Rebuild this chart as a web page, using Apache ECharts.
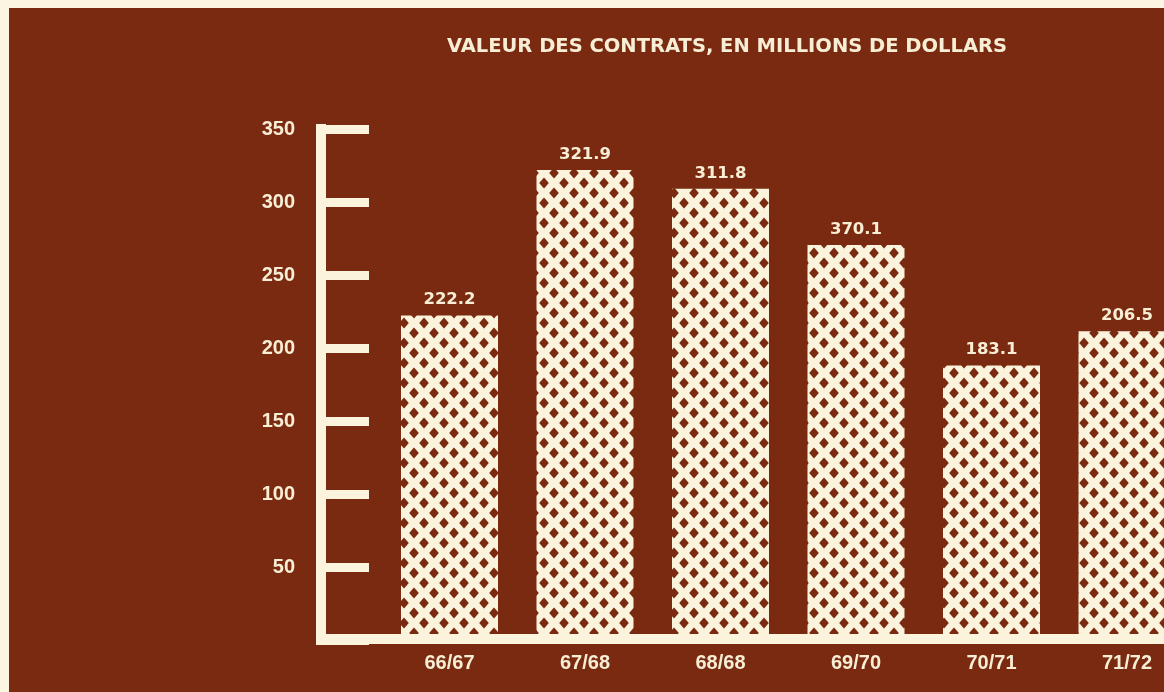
<!DOCTYPE html>
<html><head><meta charset="utf-8">
<script src="https://cdn.jsdelivr.net/npm/echarts@6/dist/echarts.min.js"></script>
<style>
html,body{margin:0;padding:0;background:#fbf5e1;width:1164px;height:692px;overflow:hidden}
#chart{position:absolute;left:9px;top:8px;width:1155px;height:684px;background:#7a2a10}
</style></head><body><div id="chart"></div>
<script>
const titleText = 'VALEUR DES CONTRATS, EN MILLIONS DE DOLLARS';
const categories = ['66/67', '67/68', '68/68', '69/70', '70/71', '71/72'];
// bar heights as drawn in the picture
const barHeights = [222.2, 321.9, 309, 270.5, 188, 211.5];
// values printed above the bars
const printedLabels = ['222.2', '321.9', '311.8', '370.1', '183.1', '206.5'];
const yMin = 0, yMax = 350, yStep = 50;

const BROWN = '#7a2a10';
const CREAM = '#fbf3dc';
const TEXT = '#f7eed5';

function makePattern() {
  const c = document.createElement('canvas');
  c.width = 20; c.height = 20;
  const g = c.getContext('2d');
  g.fillStyle = CREAM; g.fillRect(0, 0, 20, 20);
  g.fillStyle = BROWN;
  const a = 4.8, b = 5.6;
  const d = (x, y) => { g.beginPath(); g.moveTo(x, y - b); g.lineTo(x + a, y); g.lineTo(x, y + b); g.lineTo(x - a, y); g.closePath(); g.fill(); };
  d(5, 5); d(15, 15); d(-5, 15); d(25, 15); d(5, 25); d(15, -5); d(-5, -5); d(25, -5); d(-5, 25); d(25, 25); d(5, -15); d(15, 35);
  return c;
}

const chart = echarts.init(document.getElementById('chart'));
chart.setOption({
  animation: false,
  backgroundColor: BROWN,
  title: {
    text: titleText, left: 718, textAlign: 'center', top: 29, padding: 0,
    textStyle: { color: TEXT, fontFamily: 'DejaVu Sans', fontWeight: 'bold', fontSize: 19.5 }
  },
  grid: [
    { left: 440.5, right: 37, top: 121, bottom: 52 },
    { left: 307, right: 0, top: 121, bottom: 53 }
  ],
  xAxis: [
    {
      type: 'category', gridIndex: 0, data: categories, boundaryGap: false,
      axisLine: { show: false }, axisTick: { show: false }, splitLine: { show: false },
      axisLabel: { color: TEXT, fontFamily: 'Liberation Sans', fontWeight: 'bold', fontSize: 20, margin: 13 }
    },
    {
      type: 'value', gridIndex: 1, min: 0, max: 1, z: 5,
      axisLine: { show: true, lineStyle: { color: CREAM, width: 10, cap: 'butt' } },
      axisTick: { show: false }, axisLabel: { show: false }, splitLine: { show: false }
    }
  ],
  yAxis: [
    {
      type: 'value', gridIndex: 0, min: yMin, max: yMax, interval: yStep, offset: 128.5,
      axisLine: { show: true, lineStyle: { color: CREAM, width: 10, cap: 'square' } },
      axisTick: { show: true, inside: true, length: 48, lineStyle: { color: CREAM, width: 9, cap: 'butt' } },
      splitLine: { show: false },
      axisLabel: {
        color: TEXT, fontFamily: 'Liberation Sans', fontWeight: 'bold', fontSize: 20, margin: 26,
        formatter: v => (v === 0 ? '' : String(v))
      }
    },
    { type: 'value', gridIndex: 1, min: 0, max: 1, show: false }
  ],
  series: [{
    type: 'bar', xAxisIndex: 0, yAxisIndex: 0, clip: false,
    data: barHeights, barWidth: 97,
    itemStyle: { color: { image: makePattern(), repeat: 'repeat' } },
    label: {
      show: true, position: 'top', distance: 7,
      formatter: p => printedLabels[p.dataIndex],
      color: TEXT, fontFamily: 'DejaVu Sans', fontWeight: 'bold', fontSize: 16.5
    }
  }]
});
</script></body></html>
